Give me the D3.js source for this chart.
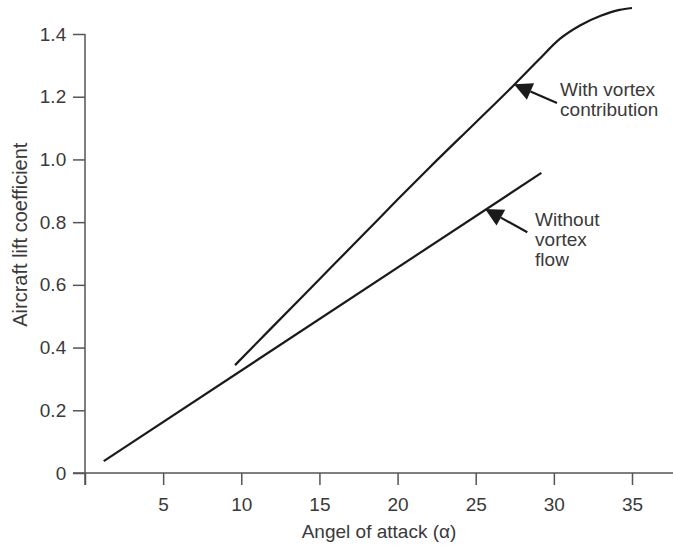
<!DOCTYPE html>
<html>
<head>
<meta charset="utf-8">
<script src="https://cdn.jsdelivr.net/npm/d3@7"></script>
<style>
  body { margin: 0; background: #fff; }
  svg text { font-family: "Liberation Sans", Arial, sans-serif; fill: #3a3a3a; }
</style>
</head>
<body>
<div id="chart"></div>
<script>
// data (angle of attack in degrees, lift coefficient)
const withoutVortex = [[1.2, 0.038], [29.2, 0.957]];
const withVortex = [
    [9.6, 0.344], [12, 0.466], [15, 0.618], [18, 0.77], [20, 0.872], [22, 0.972],
    [25, 1.118], [27.5, 1.24], [29, 1.316], [30.4, 1.385], [31.7, 1.428],
    [33, 1.458], [34.2, 1.477], [35, 1.483]
];
const xTicks = [0, 5, 10, 15, 20, 25, 30, 35];
const yTicks = [0, 0.2, 0.4, 0.6, 0.8, 1.0, 1.2, 1.4];

// callouts: arrow tip on the curve, arrow tail, label anchor, label lines
const callouts = [
    { tip: [27.45, 1.24], tail: [30.2, 1.18], label: [30.4, 1.203], lines: ["With vortex", "contribution"] },
    { tip: [25.6, 0.842], tail: [28.3, 0.768], label: [28.8, 0.788], lines: ["Without", "vortex", "flow"] }
];

const width = 673, height = 546;
const margin = { top: 34, right: 41, bottom: 73, left: 85 };

const svg = d3.select("#chart").append("svg")
    .attr("width", width)
    .attr("height", height);

const x = d3.scaleLinear().domain([0, 35]).range([margin.left, width - margin.right]);
const y = d3.scaleLinear().domain([0, 1.4]).range([height - margin.bottom, margin.top]);

const axisColor = "#555";
const tickLen = 12;

// x axis
const xAxis = svg.append("g")
    .attr("transform", `translate(0, ${y(0)})`)
    .call(d3.axisBottom(x).tickValues(xTicks).tickSize(tickLen).tickSizeOuter(0)
        .tickFormat(d => d === 0 ? "" : d));
xAxis.select(".domain").remove();
xAxis.append("line")
    .attr("x1", x(0) - tickLen).attr("x2", width)
    .attr("stroke", axisColor).attr("stroke-width", 1.5);

// y axis
const yAxis = svg.append("g")
    .attr("transform", `translate(${x(0)}, 0)`)
    .call(d3.axisLeft(y).tickValues(yTicks).tickSize(tickLen).tickSizeOuter(0)
        .tickFormat(d => d === 0 ? "0" : d.toFixed(1)));
yAxis.select(".domain").remove();
yAxis.append("line")
    .attr("y1", y(1.4)).attr("y2", y(0) + tickLen)
    .attr("stroke", axisColor).attr("stroke-width", 1.5);

svg.selectAll(".tick line").attr("stroke", axisColor).attr("stroke-width", 1.5);
svg.selectAll(".tick text").style("font-size", "19px").attr("fill", "#3a3a3a");
xAxis.selectAll(".tick text").attr("dy", "1.2em");
yAxis.selectAll(".tick text").attr("dx", "-0.2em");

// axis titles
svg.append("text")
    .attr("x", (x(0) + width) / 2)
    .attr("y", height - 8)
    .attr("text-anchor", "middle")
    .style("font-size", "19px")
    .text("Angel of attack (\u03b1)");

svg.append("text")
    .attr("transform", `translate(27, ${y(0.76)}) rotate(-90)`)
    .attr("text-anchor", "middle")
    .style("font-size", "20px")
    .text("Aircraft lift coefficient");

// curves
const line = d3.line()
    .x(d => x(d[0]))
    .y(d => y(d[1]))
    .curve(d3.curveMonotoneX);

svg.append("path")
    .datum(withoutVortex)
    .attr("d", line)
    .attr("fill", "none")
    .attr("stroke", "#1a1a1a")
    .attr("stroke-width", 2.2);

svg.append("path")
    .datum(withVortex)
    .attr("d", line)
    .attr("fill", "none")
    .attr("stroke", "#1a1a1a")
    .attr("stroke-width", 2.2);

// callout arrows and labels
const headLen = 18, headHalf = 9;
callouts.forEach(c => {
    const tx = x(c.tip[0]), ty = y(c.tip[1]);
    const sx = x(c.tail[0]), sy = y(c.tail[1]);
    const ang = Math.atan2(ty - sy, tx - sx);
    const bx = tx - headLen * Math.cos(ang), by = ty - headLen * Math.sin(ang);
    const px = -Math.sin(ang) * headHalf, py = Math.cos(ang) * headHalf;

    svg.append("line")
        .attr("x1", sx).attr("y1", sy)
        .attr("x2", bx).attr("y2", by)
        .attr("stroke", "#1a1a1a")
        .attr("stroke-width", 2.2);

    svg.append("path")
        .attr("d", `M${tx},${ty}L${bx + px},${by + py}L${bx - px},${by - py}Z`)
        .attr("fill", "#1a1a1a");

    const label = svg.append("text")
        .attr("x", x(c.label[0]))
        .attr("y", y(c.label[1]))
        .style("font-size", "19px");
    c.lines.forEach((t, i) => {
        label.append("tspan")
            .attr("x", x(c.label[0]))
            .attr("dy", i === 0 ? 0 : 20)
            .text(t);
    });
});
</script>
</body>
</html>
